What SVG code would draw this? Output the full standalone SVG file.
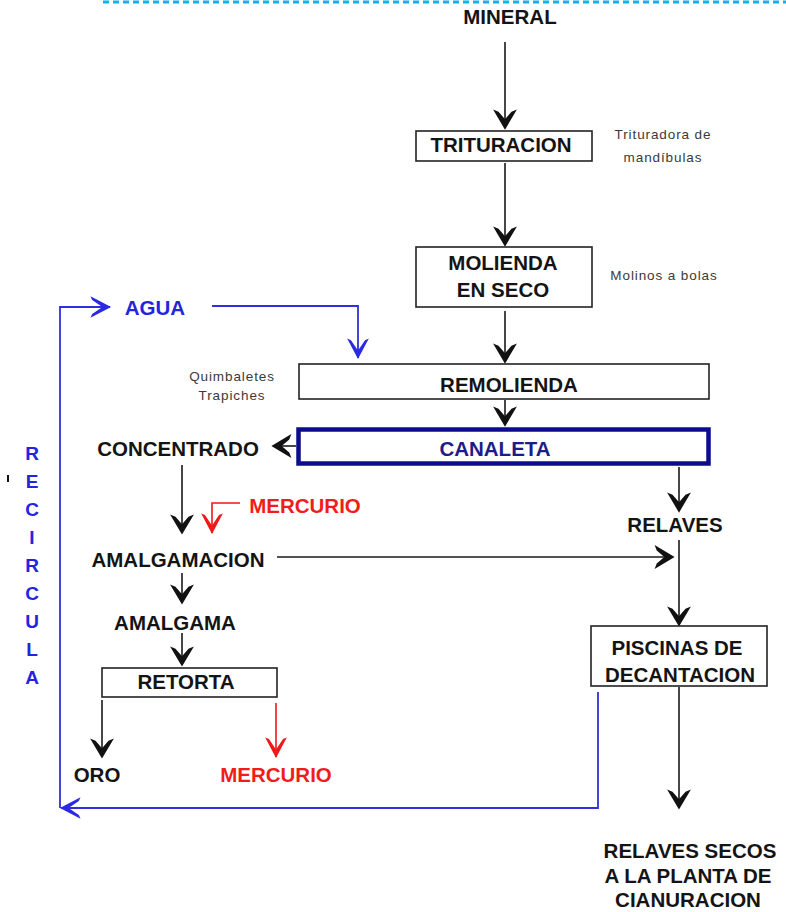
<svg xmlns="http://www.w3.org/2000/svg" width="786" height="912" viewBox="0 0 786 912">
<style>
.t{font-family:"Liberation Sans",Arial,sans-serif;font-weight:bold;font-size:20.5px;fill:#141414;text-anchor:middle}
.blue{fill:#2424e0}
.red{fill:#f21c1c}
.navy{fill:#1c1c8a}
.note{font-family:"Liberation Sans",Arial,sans-serif;font-size:13.5px;fill:#3a3a3a;letter-spacing:0.9px;text-anchor:middle}
.rc{font-family:"Liberation Sans",Arial,sans-serif;font-weight:bold;font-size:19px;fill:#2424e0;text-anchor:middle}
.box{fill:#fff;stroke:#222;stroke-width:1.6}
.k{fill:none;stroke:#1a1a1a;stroke-width:1.6}
.b{fill:none;stroke:#3030d8;stroke-width:1.8}
.r{fill:none;stroke:#f01818;stroke-width:1.6}
</style>
<defs>
<marker id="ak" markerUnits="userSpaceOnUse" markerWidth="24" markerHeight="26" viewBox="-19 -12 22 24" refX="0" refY="0" orient="auto">
<path d="M1.5,0 L-17,-11 L-15,-6 L-8,0 L-15,6 L-17,11 Z" fill="#111"/>
</marker>
<marker id="ab" markerUnits="userSpaceOnUse" markerWidth="24" markerHeight="26" viewBox="-19 -12 22 24" refX="0" refY="0" orient="auto">
<path d="M1,0 L-18,-10 L-16.5,-6.5 L-7,0 L-16.5,6.5 L-18,10 Z" fill="#2a2ae0"/>
</marker>
<marker id="ar" markerUnits="userSpaceOnUse" markerWidth="24" markerHeight="26" viewBox="-19 -12 22 24" refX="0" refY="0" orient="auto">
<path d="M1,0 L-18,-10 L-16.5,-6.5 L-7,0 L-16.5,6.5 L-18,10 Z" fill="#f01818"/>
</marker>
</defs>
<rect width="786" height="912" fill="#fff"/>
<line x1="103" y1="2" x2="786" y2="2" stroke="#1aaee8" stroke-width="3" stroke-dasharray="6 4"/>
<rect x="7" y="475" width="2" height="7" fill="#111"/>

<g id="connectors">
<path class="k" d="M505,42 V128" marker-end="url(#ak)"/>
<path class="k" d="M505,163 V245" marker-end="url(#ak)"/>
<path class="k" d="M505,311 V362" marker-end="url(#ak)"/>
<path class="k" d="M505,400 V425" marker-end="url(#ak)"/>
<path class="k" d="M296,446 H273" marker-end="url(#ak)"/>
<path class="k" d="M182,465 V533" marker-end="url(#ak)"/>
<path class="r" d="M240,503 H212 V533" marker-end="url(#ar)"/>
<path class="k" d="M277,557 H673" marker-end="url(#ak)"/>
<path class="k" d="M182,573 V603" marker-end="url(#ak)"/>
<path class="k" d="M182,633 V665" marker-end="url(#ak)"/>
<path class="k" d="M102,700 V757" marker-end="url(#ak)"/>
<path class="r" d="M276,703 V757" marker-end="url(#ar)"/>
<path class="k" d="M679,467 V511" marker-end="url(#ak)"/>
<path class="k" d="M679,540 V625" marker-end="url(#ak)"/>
<path class="k" d="M679,687 V808" marker-end="url(#ak)"/>
<path class="b" d="M212,306 H358 V358" marker-end="url(#ab)"/>
<path class="b" d="M598,692 V808 H61" marker-end="url(#ab)"/>
<path class="b" d="M60,808 V307 H110" marker-end="url(#ab)"/>
</g>

<g id="mineral"><text class="t" x="510" y="24">MINERAL</text></g>
<g id="trituracion">
<rect class="box" x="416" y="131" width="176" height="30"/>
<text class="t" x="501" y="152">TRITURACION</text>
</g>
<g id="note-trituradora">
<text class="note" x="663" y="139">Trituradora de</text>
<text class="note" x="663" y="162">mandíbulas</text>
</g>
<g id="molienda">
<rect class="box" x="416" y="247" width="176" height="60"/>
<text class="t" x="503" y="270">MOLIENDA</text>
<text class="t" x="503" y="297">EN SECO</text>
</g>
<g id="note-molinos"><text class="note" x="664" y="280">Molinos a bolas</text></g>
<g id="agua"><text class="t blue" x="155" y="315">AGUA</text></g>
<g id="note-quimbaletes">
<text class="note" x="232" y="381">Quimbaletes</text>
<text class="note" x="232" y="400">Trapiches</text>
</g>
<g id="remolienda">
<rect class="box" x="299" y="364" width="410" height="35"/>
<text class="t" x="509" y="392">REMOLIENDA</text>
</g>
<g id="canaleta">
<rect x="298.5" y="429.5" width="410" height="34" fill="#fff" stroke="#0c0c8c" stroke-width="4.5"/>
<text class="t navy" x="495" y="456">CANALETA</text>
</g>
<g id="concentrado"><text class="t" x="178" y="456">CONCENTRADO</text></g>
<g id="mercurio-in"><text class="t red" x="305" y="513">MERCURIO</text></g>
<g id="relaves"><text class="t" x="675" y="532">RELAVES</text></g>
<g id="amalgamacion"><text class="t" x="178" y="567">AMALGAMACION</text></g>
<g id="amalgama"><text class="t" x="175" y="630">AMALGAMA</text></g>
<g id="retorta">
<rect class="box" x="102" y="668" width="175" height="29"/>
<text class="t" x="186" y="689">RETORTA</text>
</g>
<g id="oro"><text class="t" x="97" y="782">ORO</text></g>
<g id="mercurio-out"><text class="t red" x="276" y="782">MERCURIO</text></g>
<g id="piscinas">
<rect class="box" x="591" y="626" width="176" height="60"/>
<text class="t" x="677" y="655">PISCINAS DE</text>
<text class="t" x="680" y="682">DECANTACION</text>
</g>
<g id="relaves-secos">
<text class="t" x="690" y="858">RELAVES SECOS</text>
<text class="t" x="688" y="883">A LA PLANTA DE</text>
<text class="t" x="688" y="907">CIANURACION</text>
</g>
<g id="recircula">
<text class="rc" x="32" y="460">R</text>
<text class="rc" x="32" y="488">E</text>
<text class="rc" x="32" y="516">C</text>
<text class="rc" x="32" y="544">I</text>
<text class="rc" x="32" y="572">R</text>
<text class="rc" x="32" y="600">C</text>
<text class="rc" x="32" y="628">U</text>
<text class="rc" x="32" y="656">L</text>
<text class="rc" x="32" y="684">A</text>
</g>
</svg>
